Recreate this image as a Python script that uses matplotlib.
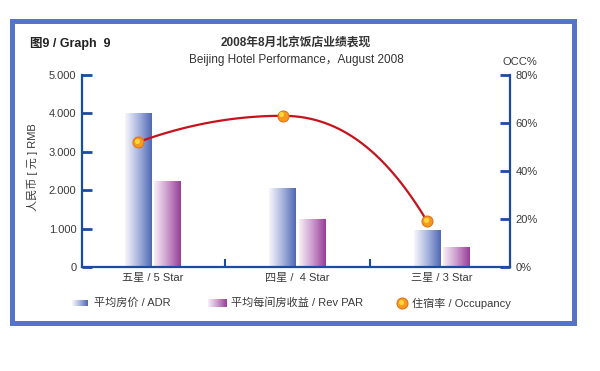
import numpy as np
import matplotlib
matplotlib.use('Agg')
import matplotlib.pyplot as plt
from matplotlib.colors import LinearSegmentedColormap
from matplotlib.patches import Rectangle

plt.rcParams['font.family'] = ['Liberation Sans', 'Noto Sans CJK SC']
plt.rcParams['font.size'] = 8

# ---------------- data ----------------
categories = ['五星 / 5 Star', '四星 /  4 Star', '三星 / 3 Star']
adr = [4000, 2050, 950]          # 平均房价 / ADR (RMB)
revpar = [2220, 1250, 500]       # 平均每间房收益 / Rev PAR (RMB)
occupancy = [52, 63, 19]         # 住宿率 / Occupancy (%)
left_ticks = [0, 1000, 2000, 3000, 4000, 5000]
left_ticklabels = ['0', '1.000', '2.000', '3.000', '4.000', '5.000']
right_ticks = [0, 20, 40, 60, 80]
right_ticklabels = ['0%', '20%', '40%', '60%', '80%']

# ---------------- styles ----------------
W, H = 600, 371
spine_col = '#1B4C9E'
text_col = '#3a3a3a'
cmap_adr = LinearSegmentedColormap.from_list('adr', ['#F6F6FB', '#AAB5DE', '#5069B6'])
cmap_rev = LinearSegmentedColormap.from_list('rev', ['#F7EEF6', '#CB9CCB', '#983F98'])
grad = np.linspace(0, 1, 64).reshape(1, -1)

fig = plt.figure(figsize=(W / 100, H / 100), dpi=100)

# overlay in pixel coordinates for frame, titles and legend
ov = fig.add_axes([0, 0, 1, 1], zorder=0)
ov.set_xlim(0, W)
ov.set_ylim(H, 0)
ov.axis('off')

ax = fig.add_axes([82 / W, 1 - 267 / H, 428 / W, 192 / H], zorder=1)
ax.patch.set_alpha(0)
x = np.arange(len(categories))
bw = 0.186
gap = 0.01
bars_adr = ax.bar(x - gap - bw / 2, adr, bw, color='none', linewidth=0)
bars_rev = ax.bar(x + gap + bw / 2, revpar, bw, color='none', linewidth=0)
for bars, cm in ((bars_adr, cmap_adr), (bars_rev, cmap_rev)):
    for p in bars.patches:
        x0, y0 = p.get_x(), p.get_y()
        ax.imshow(grad, extent=[x0, x0 + p.get_width(), y0, y0 + p.get_height()],
                  aspect='auto', cmap=cm, zorder=2, interpolation='bicubic')
ax.set_xlim(-0.49, 2.47)
ax.set_ylim(0, 5000)

ax.set_yticks(left_ticks)
ax.set_yticklabels(left_ticklabels, color=text_col)
ax.tick_params(axis='y', direction='in', length=7, width=2, color=spine_col, pad=4)
ax.set_xticks([0.5, 1.5])
ax.set_xticklabels(['', ''])
ax.tick_params(axis='x', which='major', direction='in', length=6, width=1.5, color=spine_col)
ax.set_xticks(x, minor=True)
ax.set_xticklabels(categories, minor=True, color=text_col)
ax.tick_params(axis='x', which='minor', length=0, pad=4)
ax.set_ylabel('人民币 [ 元 ] RMB', color=text_col)
ax.yaxis.set_label_coords(-0.103, 0.52)
for s in ('top', 'right'):
    ax.spines[s].set_visible(False)
for s in ('left', 'bottom'):
    ax.spines[s].set_color(spine_col)
    ax.spines[s].set_linewidth(1.6)

ax2 = ax.twinx()
ax2.set_zorder(2)
ax2.patch.set_alpha(0)
ax2.set_ylim(0, 80)
ax2.set_yticks(right_ticks)
ax2.set_yticklabels(right_ticklabels, color=text_col)
ax2.tick_params(axis='y', direction='in', length=7, width=2, color=spine_col, pad=4)
for s in ('top', 'left', 'bottom'):
    ax2.spines[s].set_visible(False)
ax2.spines['right'].set_color(spine_col)
ax2.spines['right'].set_linewidth(1.6)

# occupancy curve: smooth cubic Hermite through the points
xo = x - gap - bw / 2
tangents = [22, 0, -101]
xs, ys = [], []
for i in range(len(xo) - 1):
    h = xo[i + 1] - xo[i]
    t = np.linspace(0, 1, 60)
    h00 = 2 * t**3 - 3 * t**2 + 1
    h10 = t**3 - 2 * t**2 + t
    h01 = -2 * t**3 + 3 * t**2
    h11 = t**3 - t**2
    xs.append(xo[i] + t * h)
    ys.append(h00 * occupancy[i] + h10 * h * tangents[i] + h01 * occupancy[i + 1] + h11 * h * tangents[i + 1])
ax2.plot(np.concatenate(xs), np.concatenate(ys), color='#C5121C', lw=1.6, zorder=4,
         solid_capstyle='round')
ax2.scatter(xo, occupancy, s=62, facecolor='#F39A1F', edgecolor='#E4731A', linewidth=0.8, zorder=5)
ax2.scatter(xo - 0.008, np.array(occupancy) + 0.6, s=14, color='#FFD43C', linewidth=0, zorder=6)
ax2.set_xlim(-0.49, 2.47)

# frame
ov.add_patch(Rectangle((12, 21), 562, 302, fill=False, edgecolor='#5374CA', lw=3.6))

# titles
ov.text(30, 43, '图9 / Graph  9', ha='left', va='center', fontsize=9, weight='bold', color='#222222')
ov.text(296, 43, '2008年8月北京饭店业绩表现', ha='center', va='center', fontsize=8.5, weight='bold', color='#333333')
ov.text(296, 60, 'Beijing Hotel Performance，August 2008', ha='center', va='center', fontsize=8.5, color='#333333')
ov.text(520, 62, 'OCC%', ha='center', va='center', fontsize=8, color=text_col)

# legend
ov.imshow(grad, extent=[72, 88, 306, 300], aspect='auto', cmap=cmap_adr, zorder=3)
ov.imshow(grad, extent=[208, 227, 307, 299], aspect='auto', cmap=cmap_rev, zorder=3)
ov.set_xlim(0, W)
ov.set_ylim(H, 0)
ov.scatter([402], [303], s=62, facecolor='#F39A1F', edgecolor='#E4731A', linewidth=0.8, zorder=4)
ov.scatter([401], [302], s=14, color='#FFD43C', linewidth=0, zorder=5)
ov.text(94, 303, '平均房价 / ADR', ha='left', va='center', color=text_col)
ov.text(231, 303, '平均每间房收益 / Rev PAR', ha='left', va='center', color=text_col)
ov.text(412, 303, '住宿率 / Occupancy', ha='left', va='center', color=text_col)

fig.savefig('out.png', dpi=100)
